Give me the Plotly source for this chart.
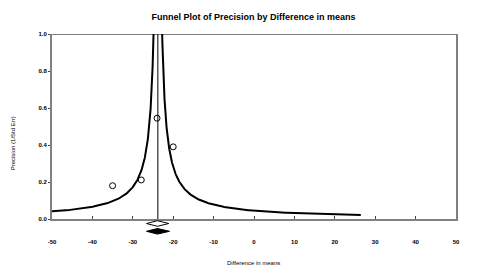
import numpy as np
import plotly.graph_objects as go

# ---- data ----
study_diff = [-35.0, -27.9, -24.0, -20.0]          # difference in means
study_precision = [0.18, 0.211, 0.545, 0.39]       # 1/Std Err

combined_estimate = -23.8      # vertical line / funnel centre
funnel_limit = 1.07            # half-width of funnel at precision 1
precision_min = 0.0213         # lowest precision drawn by the funnel

observed_diamond = [-26.6, -23.9, -21.1]   # lower, point, upper
adjusted_diamond = [-26.6, -23.9, -20.9]

x_ticks = [-50, -40, -30, -20, -10, 0, 10, 20, 30, 40, 50]
y_ticks = [0.0, 0.2, 0.4, 0.6, 0.8, 1.0]

# ---- funnel boundaries ----
prec = np.geomspace(precision_min, 1.0, 400)
left_x = combined_estimate - funnel_limit / prec
right_x = combined_estimate + funnel_limit / prec

FONT = "Liberation Sans"
fig = go.Figure()

fig.add_trace(go.Scatter(x=left_x, y=prec, mode="lines",
                         line=dict(color="black", width=2), hoverinfo="skip"))
fig.add_trace(go.Scatter(x=right_x, y=prec, mode="lines",
                         line=dict(color="black", width=2), hoverinfo="skip"))
fig.add_trace(go.Scatter(x=[combined_estimate, combined_estimate], y=[0, 1],
                         mode="lines", line=dict(color="black", width=1)))
fig.add_trace(go.Scatter(x=study_diff, y=study_precision, mode="markers",
                         marker=dict(symbol="circle-open", size=6,
                                     color="black", line=dict(width=1))))

# diamonds on a hidden axis below the plot
def diamond(vals, yc, h):
    lo, mid, hi = vals
    return [lo, mid, hi, mid, lo], [yc, yc + h, yc, yc - h, yc]

dx, dy = diamond(observed_diamond, 13.5, 2.8)
fig.add_trace(go.Scatter(x=dx, y=dy, yaxis="y2", mode="lines", fill="toself",
                         fillcolor="white", line=dict(color="black", width=1)))
dx, dy = diamond(adjusted_diamond, 5.7, 2.8)
fig.add_trace(go.Scatter(x=dx, y=dy, yaxis="y2", mode="lines", fill="toself",
                         fillcolor="black", line=dict(color="black", width=1)))

fig.update_layout(
    width=482, height=271,
    margin=dict(l=52, r=26, t=34, b=0, autoexpand=False),
    paper_bgcolor="white", plot_bgcolor="white",
    showlegend=False,
    title=dict(text="<b>Funnel Plot of Precision by Difference in means</b>",
               x=253.5 / 482, xanchor="center", xref="container",
               y=1 - 16.7 / 271, yanchor="middle", yref="container",
               font=dict(family=FONT, size=9, color="black")),
    xaxis=dict(range=[-50, 50], tickvals=x_ticks, ticktext=[str(v) for v in x_ticks],
               showgrid=False, zeroline=False, anchor="y",
               showline=True, linecolor="#808080", linewidth=2,
               ticks="inside", ticklen=3, tickcolor="#444", tickwidth=1,
               ticklabelstandoff=16,
               tickfont=dict(family=FONT, size=6, color="black", weight="bold")),
    yaxis=dict(range=[0, 1], domain=[(271 - 219) / 237, 1.0], tickvals=y_ticks,
               ticktext=[f"{v:.1f}" for v in y_ticks],
               showgrid=False, zeroline=False,
               showline=True, linecolor="#808080", linewidth=2, mirror=True,
               ticks="outside", ticklen=2, tickcolor="#444", tickwidth=1,
               tickfont=dict(family=FONT, size=6, color="black", weight="bold")),
    yaxis2=dict(range=[0, 18], domain=[(271 - 237) / 237, (271 - 219) / 237],
                visible=False, anchor="x"),
    shapes=[dict(type="line", xref="paper", yref="y", x0=0, x1=1, y0=1, y1=1,
                 line=dict(color="black", width=1))],
    annotations=[
        dict(text="Difference in means", xref="paper", yref="paper",
             x=(253 - 52) / 404, y=(271 - 263.3) / 237, showarrow=False,
             xanchor="center", yanchor="middle",
             font=dict(family=FONT, size=6, color="black")),
        dict(text="Precision (1/Std Err)", xref="paper", yref="paper",
             x=(13.3 - 52) / 404, y=(271 - 143) / 237, showarrow=False,
             textangle=-90, xanchor="center", yanchor="middle",
             font=dict(family=FONT, size=6, color="black")),
    ],
)

fig.write_html("out.html",
               config={"displayModeBar": False},
               post_script="document.body.style.margin='0';"
                           "document.body.style.overflow='hidden';")
